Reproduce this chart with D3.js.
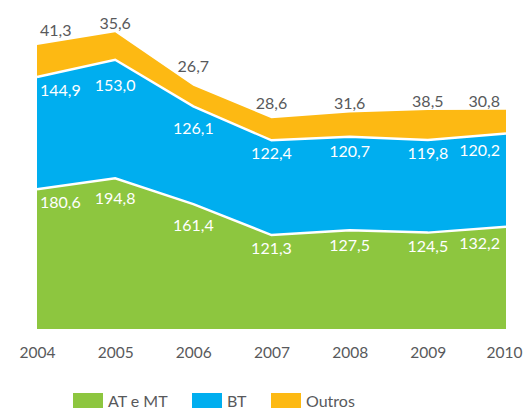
<!DOCTYPE html>
<html>
<head>
<meta charset="utf-8">
<script src="https://cdn.jsdelivr.net/npm/d3@7"></script>
<style>
  body { margin: 0; background: #fff; }
  text { font-family: "Lato", "Open Sans", sans-serif; }
</style>
</head>
<body>
<div id="chart"></div>
<script>
var years = ["2004", "2005", "2006", "2007", "2008", "2009", "2010"];
var atMt = [180.6, 194.8, 161.4, 121.3, 127.5, 124.5, 132.2];
var bt = [144.9, 153.0, 126.1, 122.4, 120.7, 119.8, 120.2];
var outros = [41.3, 35.6, 26.7, 28.6, 31.6, 38.5, 30.8];

var seriesNames = ["AT e MT", "BT", "Outros"];
var colors = ["#8dc63f", "#00aeef", "#fdb913"];

var width = 523, height = 411;

var rows = years.map(function (y, i) {
    return {year: y, "AT e MT": atMt[i], "BT": bt[i], "Outros": outros[i]};
});

var stack = d3.stack().keys(seriesNames);
var layers = stack(rows);

var x = d3.scalePoint()
    .domain(years)
    .range([37, 506]);

var y = d3.scaleLinear()
    .domain([0, 425])
    .range([329, 0]);

var svg = d3.select("#chart").append("svg")
    .attr("width", width)
    .attr("height", height);

var area = d3.area()
    .x(function (d) { return x(d.data.year); })
    .y0(function (d) { return y(d[0]); })
    .y1(function (d) { return y(d[1]); });

svg.selectAll(".layer")
    .data(layers)
    .enter().append("path")
    .attr("class", "layer")
    .attr("fill", function (d, i) { return colors[i]; })
    .attr("d", area);

// white separators on top of green and blue
var topLine = d3.line()
    .x(function (d) { return x(d.data.year); })
    .y(function (d) { return y(d[1]); });

svg.selectAll(".sep")
    .data(layers.slice(0, 2))
    .enter().append("path")
    .attr("class", "sep")
    .attr("fill", "none")
    .attr("stroke", "#fff")
    .attr("stroke-width", 2.5)
    .attr("d", topLine);

function fmt(v) { return v.toFixed(1).replace(".", ","); }

// pixel y of a layer's top edge at any x (linear between years)
function topAt(layer, px) {
    var xs = years.map(function (yr) { return x(yr); });
    if (px <= xs[0]) return y(layer[0][1]);
    for (var i = 1; i < xs.length; i++) {
        if (px <= xs[i]) {
            var t = (px - xs[i - 1]) / (xs[i] - xs[i - 1]);
            return y(layer[i - 1][1]) * (1 - t) + y(layer[i][1]) * t;
        }
    }
    return y(layer[xs.length - 1][1]);
}

function anchorFor(i) {
    if (i === 0) return "start";
    if (i === years.length - 1) return "end";
    return "middle";
}
function xFor(i) {
    if (i === 0) return x(years[i]) + 3;
    if (i === years.length - 1) return x(years[i]) - 6;
    return x(years[i]);
}

// value labels, placed clear of the edge they sit on
layers.forEach(function (layer, li) {
    svg.selectAll(".lbl" + li)
        .data(layer)
        .enter().append("text")
        .attr("class", "lbl" + li)
        .attr("x", function (d, i) { return xFor(i); })
        .attr("text-anchor", function (d, i) { return anchorFor(i); })
        .attr("fill", li === 2 ? "#58595b" : "#fff")
        .style("font-size", "16px")
        .text(function (d) { return fmt(d[1] - d[0]); })
        .attr("y", function (d) {
            var w = this.getComputedTextLength();
            var i = layer.indexOf(d);
            var a = +this.getAttribute("x"), b;
            var anc = anchorFor(i);
            if (anc === "middle") { a = a - w / 2; }
            else if (anc === "end") { a = a - w; }
            b = a + w;
            var e1 = topAt(layer, a), e2 = topAt(layer, b), e3 = topAt(layer, x(years[i]));
            if (li === 2) return Math.min(e1, e2, e3) - 3;
            return Math.max(e1, e2, e3) + 19;
        });
});

// x axis labels
var xAxis = svg.append("g")
    .attr("transform", "translate(0,329)")
    .call(d3.axisBottom(x).tickSize(0).tickPadding(18));
xAxis.select(".domain").remove();
xAxis.selectAll("text")
    .attr("fill", "#58595b")
    .style("font-size", "15.5px")
    .style("font-family", "Lato, 'Open Sans', sans-serif");
// keep the last year inside the frame
xAxis.selectAll(".tick").filter(function (d) { return d === years[years.length - 1]; })
    .select("text")
    .attr("text-anchor", "end")
    .attr("x", 522 - x(years[years.length - 1]));

// legend
var legendX = [73, 192, 271];
var legend = svg.selectAll(".legend")
    .data(seriesNames)
    .enter().append("g")
    .attr("class", "legend")
    .attr("transform", function (d, i) { return "translate(" + legendX[i] + ",393)"; });

legend.append("rect")
    .attr("width", 30)
    .attr("height", 15)
    .attr("fill", function (d, i) { return colors[i]; });

legend.append("text")
    .attr("x", 35)
    .attr("y", 14)
    .attr("fill", "#58595b")
    .style("font-size", "16px")
    .text(function (d) { return d; });
</script>
</body>
</html>
